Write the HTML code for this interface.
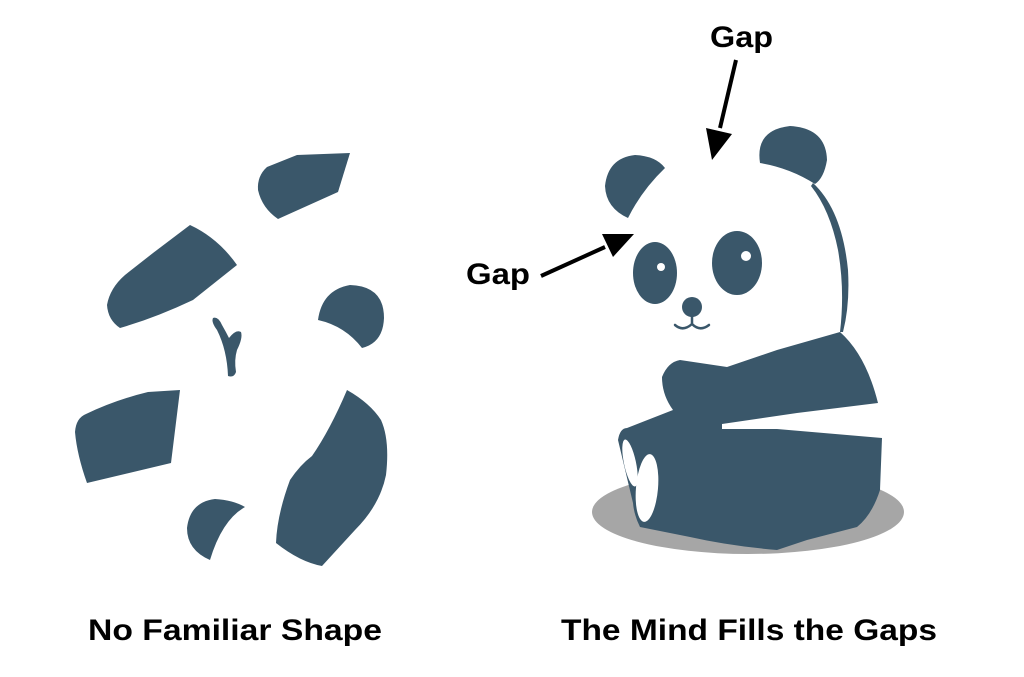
<!DOCTYPE html>
<html><head><style>
html,body{margin:0;padding:0;background:#fff;}
svg{display:block}
text{font-family:"Liberation Sans",sans-serif;font-weight:bold;fill:#000}
</style></head><body>
<svg width="1024" height="677" viewBox="0 0 1024 677" xmlns="http://www.w3.org/2000/svg">
<g fill="#3a576a">
<path d="M297,155 L350,153 L338,192 L278,219 Q262,208 258,190 Q257,176 267,167 Z"/>
<path d="M190,225 Q218,238 237,265 L193,300 Q155,318 120,328 Q108,320 107,305 Q110,288 125,275 L153,253 Z"/>
<path d="M318,320 Q322,290 350,285 Q384,286 384,318 Q383,343 362,348 Q345,326 318,320 Z"/>
<path d="M213,318 Q218,316 222,325 Q226,332 229,338 Q236,329 241,332 Q243,338 237,350 Q234,360 236,372 Q234,378 228,376 Q227,350 217,330 Q211,322 213,318 Z"/>
<path d="M148,392 L180,390 L171,463 L87,483 Q77,455 75,432 Q76,418 86,414 Q115,400 148,392 Z"/>
<path d="M347,390 Q370,403 381,420 Q390,440 386,475 Q380,505 355,530 L322,566 Q300,562 276,543 Q277,515 290,480 Q300,465 312,456 Q330,430 347,390 Z"/>
<path d="M245,507 Q222,520 210,560 Q187,550 187,528 Q190,502 215,499 Q233,500 245,507 Z"/>
</g>
<ellipse cx="748" cy="512" rx="156" ry="42" fill="#a6a6a6"/>
<g fill="#3a576a">
<path d="M665,168 Q642,190 628,218 Q606,208 605,186 Q608,158 635,155 Q656,156 665,168 Z"/>
<path d="M760,163 Q755,130 790,126 Q826,128 827,160 Q824,178 815,184 Q790,168 760,163 Z"/>
<path d="M813,183 Q842,210 848,270 Q850,305 843,332 L840,332 Q845,290 838,250 Q830,210 811,186 Z"/>
<ellipse cx="655" cy="273" rx="22" ry="31"/>
<ellipse cx="737" cy="263" rx="25" ry="32"/>
<circle cx="692" cy="307" r="10"/>
<path d="M662,377 Q668,362 680,360 L727,367 L777,350 L840,332 Q866,355 878,403 L797,413 L722,424 L722,429 L777,429 L882,438 L880,490 Q872,515 857,527 L807,540 L777,550 Q730,546 690,537 L640,527 Q634,515 633,503 L618,440 Q620,428 627,428 L673,410 Q662,395 662,377 Z"/>
</g>
<g fill="#fff">
<circle cx="661" cy="267" r="4"/>
<circle cx="746" cy="256" r="5"/>
<ellipse cx="630" cy="463" rx="6" ry="24" transform="rotate(-12 630 463)"/>
<ellipse cx="647" cy="488" rx="11" ry="34" transform="rotate(5 647 488)"/>
</g>
<path d="M692,314 L692,324 M675,325 Q683,332 692,324 Q700,332 709,325" stroke="#3a576a" stroke-width="2.5" fill="none" stroke-linecap="round"/>
<line x1="736" y1="60" x2="720" y2="128" stroke="#000" stroke-width="4"/>
<path d="M712,160 L706,128 L732,134 Z" fill="#000"/>
<line x1="541" y1="276" x2="605" y2="247" stroke="#000" stroke-width="4"/>
<path d="M634,234 L602,234 L613,257 Z" fill="#000"/>
<text x="710" y="47" font-size="30" textLength="63" lengthAdjust="spacingAndGlyphs">Gap</text>
<text x="466" y="284" font-size="30" textLength="64" lengthAdjust="spacingAndGlyphs">Gap</text>
<text x="88" y="640" font-size="30" textLength="294" lengthAdjust="spacingAndGlyphs">No Familiar Shape</text>
<text x="561" y="640" font-size="30" textLength="376" lengthAdjust="spacingAndGlyphs">The Mind Fills the Gaps</text>
</svg>
</body></html>
